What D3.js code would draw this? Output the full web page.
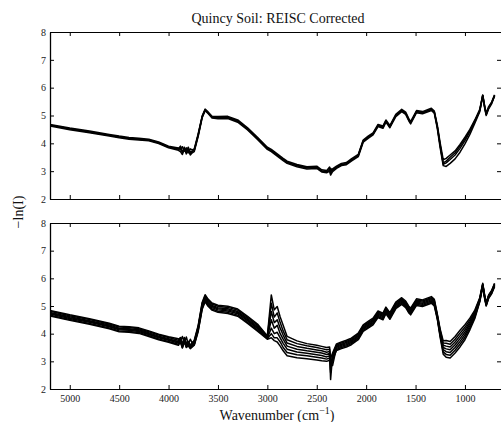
<!DOCTYPE html>
<html><head><meta charset="utf-8">
<script src="https://cdn.jsdelivr.net/npm/d3@7"></script>
<style>body{margin:0;background:#fff;} svg{display:block;}</style>
</head><body><svg id="c" width="501" height="422"></svg>
<script>
// Wavenumber grid (cm^-1), shared by all spectra
const wavenumbers = [5200,5000,4800,4600,4500,4400,4300,4200,4100,4000,
  3900,3880,3860,3840,3820,3800,3780,3760,3740,3700,
  3660,3630,3600,3560,3500,3400,3300,3200,3100,
  3000,2960,2930,2900,2870,2840,2800,2700,2600,2500,2450,2400,2370,2360,2340,
  2300,2250,2200,2150,2080,2030,1980,1930,1880,1830,1800,1760,1700,1640,1600,1570,1550,1490,1430,1340,1310,
  1280,1250,1220,1190,1150,1100,1050,1000,950,900,850,
  820,800,785,760,730,700];

const xTickValues = [5000,4500,4000,3500,3000,2500,2000,1500,1000];
const yTickValues = [2,3,4,5,6,7,8];

// Top panel spectra
const top0 = [4.65,4.52,4.41,4.29,4.23,4.18,4.15,4.12,4.02,3.87,
  3.79,3.84,3.66,3.86,3.70,3.80,3.68,3.72,3.74,4.30,
  4.95,5.20,5.10,4.94,4.92,4.93,4.80,4.52,4.18,
  3.82,3.74,3.66,3.58,3.50,3.42,3.32,3.20,3.12,3.14,3.01,2.98,3.08,2.92,3.03,
  3.14,3.24,3.27,3.40,3.56,4.08,4.22,4.34,4.64,4.58,4.80,4.60,5.00,5.18,5.08,4.86,4.74,5.14,5.10,5.22,5.12,
  4.60,3.90,3.25,3.30,3.42,3.58,3.82,4.10,4.42,4.78,5.18,
  5.72,5.30,5.04,5.28,5.45,5.72];
const top1 = [4.68,4.55,4.44,4.32,4.26,4.21,4.18,4.15,4.05,3.90,
  3.83,3.76,3.88,3.72,3.84,3.66,3.80,3.76,3.80,4.35,
  4.98,5.23,5.13,4.97,4.96,4.97,4.84,4.56,4.22,
  3.86,3.78,3.70,3.62,3.54,3.46,3.36,3.24,3.16,3.18,3.05,3.02,3.15,3.00,3.08,
  3.18,3.28,3.31,3.44,3.60,4.12,4.26,4.38,4.68,4.62,4.84,4.64,5.04,5.22,5.12,4.90,4.78,5.18,5.14,5.26,5.16,
  4.66,4.00,3.41,3.46,3.58,3.73,3.96,4.22,4.50,4.84,5.22,
  5.74,5.34,5.08,5.32,5.48,5.74];
const top2 = [4.62,4.49,4.38,4.26,4.20,4.15,4.12,4.09,3.99,3.84,
  3.75,3.70,3.60,3.80,3.62,3.74,3.58,3.66,3.70,4.25,
  4.92,5.17,5.07,4.91,4.88,4.89,4.76,4.48,4.14,
  3.78,3.70,3.62,3.54,3.46,3.38,3.28,3.16,3.08,3.10,2.97,2.94,3.00,2.86,2.98,
  3.10,3.20,3.23,3.36,3.52,4.04,4.18,4.30,4.60,4.54,4.76,4.56,4.96,5.14,5.04,4.82,4.70,5.10,5.06,5.18,5.08,
  4.54,3.82,3.20,3.17,3.28,3.44,3.68,3.98,4.32,4.72,5.14,
  5.70,5.26,5.00,5.24,5.42,5.70];
const top3 = [4.65,4.52,4.41,4.29,4.23,4.18,4.15,4.12,4.02,3.87,
  3.81,3.90,3.70,3.78,3.74,3.86,3.64,3.70,3.76,4.30,
  4.95,5.20,5.10,4.94,4.92,4.93,4.80,4.52,4.18,
  3.82,3.74,3.66,3.58,3.50,3.42,3.32,3.20,3.12,3.14,3.01,2.98,3.02,3.10,3.03,
  3.14,3.24,3.27,3.40,3.56,4.08,4.22,4.34,4.64,4.58,4.80,4.60,5.00,5.18,5.08,4.86,4.74,5.14,5.10,5.22,5.12,
  4.60,3.92,3.30,3.36,3.50,3.66,3.90,4.16,4.46,4.80,5.18,
  5.72,5.30,5.04,5.28,5.45,5.72];

// Bottom panel spectra
const bot1 = [4.84,4.68,4.54,4.38,4.27,4.25,4.21,4.10,3.98,3.89,
  3.82,3.74,3.90,3.66,3.88,3.62,3.80,3.66,3.76,4.30,
  5.13,5.41,5.25,5.11,5.03,4.99,4.89,4.63,4.35,
  3.92,5.40,4.86,4.98,4.60,4.30,3.90,3.74,3.64,3.58,3.54,3.50,3.52,3.10,3.30,
  3.63,3.70,3.76,3.84,4.02,4.32,4.44,4.56,4.82,4.74,4.96,4.76,5.14,5.30,5.18,5.00,4.92,5.26,5.22,5.34,5.24,
  4.71,4.15,3.74,3.75,3.72,3.90,4.12,4.32,4.56,4.85,5.30,
  5.82,5.38,5.12,5.40,5.56,5.82];
const bot2 = [4.81,4.65,4.51,4.35,4.24,4.22,4.18,4.07,3.95,3.86,
  3.76,3.86,3.62,3.84,3.66,3.72,3.58,3.68,3.72,4.26,
  5.09,5.37,5.21,5.07,4.99,4.95,4.85,4.59,4.31,
  3.90,5.10,4.60,4.75,4.40,4.10,3.78,3.64,3.56,3.50,3.46,3.42,3.44,2.70,3.25,
  3.59,3.66,3.72,3.80,3.98,4.28,4.40,4.52,4.78,4.70,4.92,4.72,5.10,5.26,5.14,4.96,4.88,5.22,5.18,5.30,5.20,
  4.68,4.10,3.66,3.65,3.62,3.80,4.02,4.23,4.49,4.80,5.27,
  5.80,5.36,5.10,5.38,5.54,5.80];
const bot3 = [4.77,4.61,4.47,4.31,4.20,4.18,4.14,4.03,3.91,3.82,
  3.70,3.84,3.56,3.86,3.58,3.70,3.52,3.62,3.68,4.23,
  5.04,5.32,5.16,5.02,4.94,4.90,4.80,4.54,4.26,
  3.88,4.80,4.40,4.50,4.20,3.95,3.66,3.54,3.47,3.41,3.38,3.33,3.36,2.34,3.20,
  3.55,3.62,3.68,3.76,3.94,4.24,4.36,4.48,4.74,4.66,4.88,4.68,5.06,5.22,5.10,4.92,4.84,5.18,5.14,5.26,5.16,
  4.65,4.05,3.58,3.55,3.52,3.70,3.92,4.14,4.42,4.75,5.25,
  5.78,5.34,5.08,5.36,5.52,5.78];
const bot4 = [4.74,4.58,4.44,4.28,4.17,4.15,4.11,4.00,3.88,3.79,
  3.72,3.80,3.58,3.82,3.60,3.66,3.55,3.60,3.66,4.20,
  5.00,5.28,5.12,4.98,4.90,4.86,4.76,4.50,4.22,
  3.86,4.50,4.20,4.30,4.00,3.80,3.55,3.44,3.38,3.33,3.30,3.25,3.28,3.00,2.85,
  3.51,3.58,3.64,3.72,3.90,4.20,4.32,4.44,4.70,4.62,4.84,4.64,5.02,5.18,5.06,4.88,4.80,5.14,5.10,5.22,5.12,
  4.62,4.00,3.50,3.45,3.42,3.60,3.82,4.05,4.35,4.70,5.22,
  5.76,5.32,5.06,5.34,5.50,5.76];
const bot5 = [4.71,4.55,4.41,4.25,4.14,4.12,4.08,3.97,3.85,3.76,
  3.66,3.76,3.52,3.78,3.56,3.62,3.50,3.58,3.62,4.16,
  4.96,5.24,5.08,4.94,4.86,4.82,4.72,4.46,4.18,
  3.84,4.20,4.00,4.05,3.85,3.65,3.44,3.34,3.29,3.24,3.21,3.16,3.20,2.60,3.15,
  3.47,3.54,3.60,3.68,3.86,4.16,4.28,4.40,4.66,4.58,4.80,4.60,4.98,5.14,5.02,4.84,4.76,5.10,5.06,5.18,5.08,
  4.59,3.95,3.42,3.35,3.32,3.50,3.72,3.96,4.28,4.65,5.20,
  5.74,5.30,5.04,5.32,5.48,5.74];
const bot6 = [4.67,4.51,4.37,4.21,4.10,4.08,4.04,3.93,3.81,3.72,
  3.62,3.72,3.50,3.74,3.52,3.58,3.48,3.54,3.60,4.12,
  4.91,5.19,5.03,4.89,4.81,4.77,4.67,4.41,4.13,
  3.82,4.00,3.85,3.85,3.70,3.50,3.32,3.24,3.20,3.15,3.12,3.08,3.12,2.90,3.10,
  3.43,3.50,3.56,3.64,3.82,4.12,4.24,4.36,4.62,4.54,4.76,4.56,4.94,5.10,4.98,4.80,4.72,5.06,5.02,5.14,5.04,
  4.56,3.90,3.34,3.25,3.22,3.40,3.62,3.87,4.21,4.60,5.17,
  5.72,5.28,5.02,5.30,5.46,5.72];
const bot7 = [4.64,4.48,4.34,4.18,4.07,4.05,4.01,3.90,3.78,3.69,
  3.58,3.70,3.48,3.70,3.50,3.56,3.46,3.52,3.58,4.08,
  4.87,5.15,4.99,4.85,4.77,4.73,4.63,4.37,4.09,
  3.80,3.85,3.75,3.70,3.55,3.38,3.20,3.13,3.09,3.05,3.02,3.00,3.04,2.95,3.05,
  3.39,3.46,3.52,3.60,3.78,4.08,4.20,4.32,4.58,4.50,4.72,4.52,4.90,5.06,4.94,4.76,4.68,5.02,4.98,5.10,5.00,
  4.53,3.85,3.26,3.15,3.12,3.30,3.52,3.78,4.14,4.55,5.15,
  5.70,5.26,5.00,5.28,5.44,5.70];

const topSeries = [top0, top1, top2, top3];
const bottomSeries = [bot1, bot2, bot3, bot4, bot5, bot6, bot7];

const svg = d3.select("#c");
const FONT = "'Liberation Serif','Times New Roman',serif";
const x = d3.scaleLinear().domain([5200, 625]).range([50, 502]);

const panels = [
  {top: 32, bottom: 199, series: topSeries, xLabels: false},
  {top: 223, bottom: 389, series: bottomSeries, xLabels: true}
];

panels.forEach((p, pi) => {
  const y = d3.scaleLinear().domain([2, 8]).range([p.bottom, p.top]);
  const clipId = "clip" + pi;
  svg.append("clipPath").attr("id", clipId).append("rect")
    .attr("x", 50).attr("y", p.top).attr("width", 452).attr("height", p.bottom - p.top);
  const g = svg.append("g").attr("clip-path", `url(#${clipId})`);
  const line = d3.line().x((d, i) => x(wavenumbers[i])).y(d => y(d));
  p.series.forEach(s => {
    g.append("path").attr("d", line(s)).attr("fill", "none")
      .attr("stroke", "#000").attr("stroke-width", 1.5).attr("stroke-linejoin", "round");
  });

  const axB = svg.append("g").attr("transform", `translate(0,${p.bottom})`)
    .call(d3.axisBottom(x).tickValues(xTickValues).tickSizeInner(-4).tickSizeOuter(0).tickPadding(6)
      .tickFormat(p.xLabels ? d3.format("d") : () => ""));
  const axT = svg.append("g").attr("transform", `translate(0,${p.top})`)
    .call(d3.axisTop(x).tickValues(xTickValues).tickSizeInner(-4).tickSizeOuter(0).tickFormat(() => ""));
  const axL = svg.append("g").attr("transform", `translate(50,0)`)
    .call(d3.axisLeft(y).tickValues(yTickValues).tickSizeInner(-4).tickSizeOuter(0).tickPadding(4).tickFormat(d3.format("d")));
  const axR = svg.append("g").attr("transform", `translate(501,0)`)
    .call(d3.axisRight(y).tickValues(yTickValues).tickSizeInner(-4).tickSizeOuter(0).tickFormat(() => ""));
  [axB, axT, axL, axR].forEach(a => {
    a.selectAll("path.domain").attr("stroke", "#000").attr("stroke-width", 1);
    a.selectAll(".tick line").attr("stroke", "#000");
    a.selectAll("text").attr("font-family", FONT).attr("font-size", 10).attr("fill", "#222");
  });
  axL.select("path.domain").attr("stroke-width", 1.3);
});

svg.append("text").attr("x", 278).attr("y", 22.5).attr("text-anchor", "middle")
  .attr("font-family", FONT).attr("font-size", 14).attr("fill", "#111")
  .text("Quincy Soil: REISC Corrected");

const xl = svg.append("text").attr("x", 277).attr("y", 420).attr("text-anchor", "middle")
  .attr("font-family", FONT).attr("font-size", 14).attr("fill", "#111");
xl.append("tspan").text("Wavenumber (cm");
xl.append("tspan").attr("dy", -6).attr("font-size", 10).text("\u22121");
xl.append("tspan").attr("dy", 6).text(")");

svg.append("text").attr("transform", "translate(23,212) rotate(-90)").attr("text-anchor", "middle")
  .attr("font-family", FONT).attr("font-size", 14).attr("fill", "#111")
  .text("\u2212ln(I)");
</script></body></html>
